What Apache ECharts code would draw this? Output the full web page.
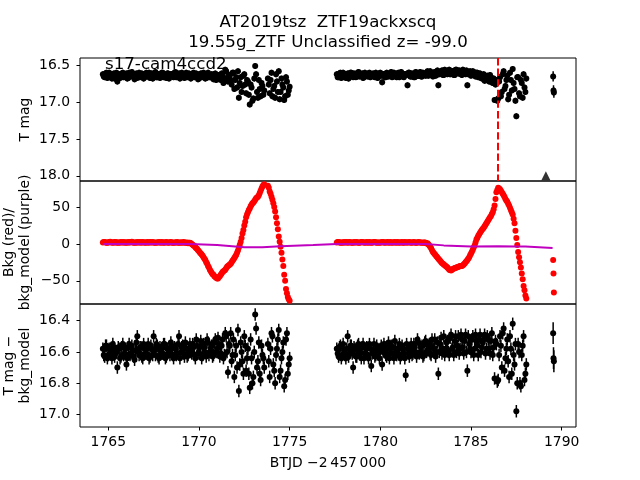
<!DOCTYPE html>
<html>
<head>
<meta charset="utf-8">
<script src="https://cdn.jsdelivr.net/npm/echarts@6.0.0/dist/echarts.min.js"></script>
<style>
html,body{margin:0;padding:0;background:#fff}
#chart{width:640px;height:480px}
</style>
</head>
<body>
<div id="chart"></div>
<script>
// TESS sector 17 cadence, both orbits
const btjd = [
	1764.7,1764.8,1764.9,1765.0,1765.1,1765.2,1765.3,1765.4,1765.5,1765.6,
	1765.7,1765.8,1765.9,1766.0,1766.1,1766.2,1766.3,1766.4,1766.5,1766.6,
	1766.7,1766.8,1766.9,1767.0,1767.1,1767.2,1767.3,1767.4,1767.5,1767.6,
	1767.7,1767.8,1767.9,1768.0,1768.1,1768.2,1768.3,1768.4,1768.5,1768.6,
	1768.7,1768.8,1768.9,1769.0,1769.1,1769.2,1769.3,1769.4,1769.5,1769.6,
	1769.7,1769.8,1769.9,1770.0,1770.1,1770.2,1770.3,1770.4,1770.5,1770.6,
	1770.7,1770.8,1770.9,1771.0,1771.1,1771.2,1771.3,1771.4,1771.5,1771.6,
	1771.7,1771.8,1771.9,1772.0,1772.1,1772.2,1772.3,1772.4,1772.5,1772.6,
	1772.7,1772.8,1772.9,1773.0,1773.1,1773.2,1773.3,1773.4,1773.5,1773.6,
	1773.8,1773.9,1774.0,1774.1,1774.2,1774.3,1774.4,1774.5,1774.6,1774.7,
	1774.8,1774.9,1775.0,
	1777.6,1777.7,1777.8,1777.9,1778.0,1778.1,1778.2,1778.3,1778.4,1778.5,
	1778.6,1778.7,1778.8,1778.9,1779.0,1779.1,1779.2,1779.3,1779.4,1779.5,
	1779.6,1779.7,1779.8,1779.9,1780.0,1780.1,1780.2,1780.3,1780.4,1780.5,
	1780.6,1780.7,1780.8,1780.9,1781.0,1781.1,1781.2,1781.3,1781.4,1781.5,
	1781.6,1781.7,1781.8,1781.9,1782.0,1782.1,1782.2,1782.3,1782.4,1782.5,
	1782.6,1782.7,1782.8,1782.9,1783.0,1783.1,1783.2,1783.3,1783.4,1783.5,
	1783.6,1783.7,1783.8,1783.9,1784.0,1784.1,1784.2,1784.3,1784.4,1784.5,
	1784.6,1784.7,1784.8,1784.9,1785.0,1785.1,1785.2,1785.3,1785.4,1785.5,
	1785.6,1785.7,1785.8,1785.9,1786.0,1786.1,1786.2,1786.3,1786.4,1786.5,
	1786.6,1786.7,1786.8,1786.9,1787.0,1787.1,1787.2,1787.3,1787.4,1787.5,
	1787.6,1787.7,1787.8,1787.9,1788.0
]
const tmag = [
	16.62,16.66,16.60,16.65,16.63,16.68,16.61,16.64,16.72,16.62,
	16.66,16.60,16.64,16.61,16.67,16.63,16.59,16.65,16.62,16.67,
	16.60,16.64,16.62,16.66,16.60,16.63,16.67,16.61,16.64,16.59,
	16.66,16.62,16.65,16.60,16.63,16.67,16.61,16.64,16.62,16.66,
	16.59,16.64,16.61,16.65,16.62,16.67,16.60,16.64,16.62,16.66,
	16.60,16.65,16.62,16.68,16.61,16.65,16.63,16.67,16.60,16.66,
	16.62,16.69,16.61,16.66,16.63,16.70,16.62,16.67,16.58,16.72,
	16.64,16.76,16.60,16.70,16.80,16.94,16.66,16.78,16.62,16.88,
	16.72,17.03,16.80,16.95,16.51,16.86,16.70,16.92,16.78,16.84,
	16.68,16.88,16.60,16.82,16.94,16.72,16.58,16.86,16.76,16.97,
	16.66,16.90,16.79,
	16.62,16.66,16.60,16.65,16.62,16.67,16.61,16.64,16.60,16.66,
	16.62,16.65,16.59,16.64,16.61,16.66,16.62,16.65,16.60,16.64,
	16.61,16.66,16.62,16.65,16.60,16.73,16.62,16.66,16.61,16.64,
	16.59,16.65,16.62,16.66,16.60,16.64,16.61,16.66,16.62,16.77,
	16.60,16.65,16.62,16.66,16.60,16.64,16.59,16.65,16.61,16.64,
	16.58,16.63,16.60,16.65,16.59,16.63,16.77,16.60,16.57,16.63,
	16.59,16.62,16.56,16.61,16.58,16.63,16.56,16.61,16.58,16.63,
	16.57,16.62,16.77,16.59,16.64,16.58,16.63,16.60,16.66,16.61,
	16.68,16.62,16.70,16.64,16.72,16.66,16.74,16.97,16.70,16.95,
	16.66,16.86,16.58,16.78,16.64,16.90,16.70,16.55,16.82,17.19,
	16.66,16.92,16.74,16.62,16.86
]
const bkg = [
	2,2.5,1.5,2,3,2,1.5,2.5,2,1.5,
	2.5,2,1.5,2,2.5,2,3,1.5,2,2.5,
	2,1.5,2.5,2,2,1.5,2.5,2,2,1.5,
	2,2.5,1.5,2,2,2.5,1.5,2,2,1.5,
	2,2.5,1.5,2,1.5,2,1.5,1,1.5,0,
	-2,-4.5,-7,-10,-13,-16,-20,-25,-30,-35,
	-39,-42,-45,-47,-45,-42,-38,-36,-33,-30,
	-28,-25,-21,-17,-12,-5,3,14,25,36,
	43,48,53,56,60,63,66,72,78,81,
	79,71,64,55,44,28,10,-4,-21,-42,
	-61,-72,-77,
	2,2.5,1.5,2,2.5,2,1.5,2.5,2,1.5,
	2,2.5,1.5,2,2.5,2,1.5,2,2.5,1.5,
	2,2.5,1.5,2,2,2.5,1.5,2,2.5,2,
	1.5,2,2.5,2,1.5,2,2.5,1.5,2,2,
	2.5,1.5,2,2,1.5,2.5,2,1.5,2,1.5,
	1,-2,-6,-11,-14,-17,-20,-23,-26,-28,
	-30,-32,-35,-36,-34,-33,-32,-31,-30,-30,
	-28,-25,-22,-18,-13,-8,-2,6,11,15,
	19,22,26,30,34,38,43,52,70,76,
	74,70,66,61,57,52,46,40,28,8,
	-11,-25,-40,-57,-70
]
const tmagSub = [
	16.58,16.63,16.56,16.62,16.59,16.64,16.57,16.61,16.70,16.58,
	16.63,16.55,16.61,16.68,16.57,16.62,16.56,16.63,16.59,16.50,
	16.62,16.57,16.64,16.58,16.61,16.55,16.63,16.58,16.50,16.62,
	16.56,16.64,16.59,16.61,16.55,16.63,16.58,16.62,16.56,16.64,
	16.58,16.61,16.50,16.60,16.56,16.63,16.58,16.62,16.55,16.61,
	16.57,16.64,16.56,16.60,16.53,16.62,16.57,16.63,16.54,16.60,
	16.56,16.62,16.52,16.58,16.55,16.61,16.52,16.62,16.50,16.73,
	16.56,16.66,16.52,16.62,16.70,16.85,16.54,16.66,16.50,16.72,
	16.58,16.83,16.64,16.76,16.36,16.70,16.54,16.78,16.62,16.70,
	16.55,16.76,16.48,16.68,16.80,16.58,16.46,16.72,16.60,16.82,
	16.52,16.74,16.64,
	16.58,16.63,16.56,16.62,16.59,16.64,16.50,16.61,16.56,16.70,
	16.58,16.63,16.55,16.61,16.57,16.64,16.58,16.62,16.55,16.69,
	16.59,16.63,16.56,16.61,16.58,16.68,16.55,16.62,16.58,16.64,
	16.56,16.61,16.53,16.62,16.58,16.64,16.56,16.61,16.75,16.58,
	16.63,16.55,16.61,16.57,16.63,16.54,16.60,16.56,16.62,16.53,
	16.59,16.55,16.62,16.57,16.52,16.60,16.74,16.55,16.61,16.50,
	16.58,16.53,16.62,16.49,16.57,16.53,16.60,16.50,16.58,16.52,
	16.61,16.49,16.72,16.55,16.60,16.50,16.58,16.53,16.62,16.49,
	16.57,16.52,16.61,16.50,16.58,16.53,16.62,16.77,16.55,16.78,
	16.50,16.70,16.45,16.64,16.52,16.76,16.58,16.42,16.68,16.98,
	16.55,16.80,16.62,16.50,16.74
]

// second pass of exposures, in between the ones above
const btjd2 = [
	1764.75,1764.85,1764.95,1765.05,1765.15,1765.25,1765.35,1765.45,1765.55,1765.65,
	1765.75,1765.85,1765.95,1766.05,1766.15,1766.25,1766.35,1766.45,1766.55,1766.65,
	1766.75,1766.85,1766.95,1767.05,1767.15,1767.25,1767.35,1767.45,1767.55,1767.65,
	1767.75,1767.85,1767.95,1768.05,1768.15,1768.25,1768.35,1768.45,1768.55,1768.65,
	1768.75,1768.85,1768.95,1769.05,1769.15,1769.25,1769.35,1769.45,1769.55,1769.65,
	1769.75,1769.85,1769.95,1770.05,1770.15,1770.25,1770.35,1770.45,1770.55,1770.65,
	1770.75,1770.85,1770.95,1771.05,1771.15,1771.25,1771.35,1771.45,1771.55,1771.65,
	1771.75,1771.85,1771.95,1772.05,1772.15,1772.25,1772.35,1772.45,1772.55,1772.65,
	1772.75,1772.85,1772.95,1773.05,1773.15,1773.25,1773.35,1773.45,1773.55,1773.85,
	1773.95,1774.05,1774.15,1774.25,1774.35,1774.45,1774.55,1774.65,1774.75,1774.85,
	1774.95,
	1777.65,1777.75,1777.85,1777.95,1778.05,1778.15,1778.25,1778.35,1778.45,1778.55,
	1778.65,1778.75,1778.85,1778.95,1779.05,1779.15,1779.25,1779.35,1779.45,1779.55,
	1779.65,1779.75,1779.85,1779.95,1780.05,1780.15,1780.25,1780.35,1780.45,1780.55,
	1780.65,1780.75,1780.85,1780.95,1781.05,1781.15,1781.25,1781.35,1781.45,1781.55,
	1781.65,1781.75,1781.85,1781.95,1782.05,1782.15,1782.25,1782.35,1782.45,1782.55,
	1782.65,1782.75,1782.85,1782.95,1783.05,1783.15,1783.25,1783.35,1783.45,1783.55,
	1783.65,1783.75,1783.85,1783.95,1784.05,1784.15,1784.25,1784.35,1784.45,1784.55,
	1784.65,1784.75,1784.85,1784.95,1785.05,1785.15,1785.25,1785.35,1785.45,1785.55,
	1785.65,1785.75,1785.85,1785.95,1786.05,1786.15,1786.25,1786.35,1786.45,1786.55,
	1786.65,1786.75,1786.85,1786.95,1787.05,1787.15,1787.25,1787.35,1787.45,1787.55,
	1787.65,1787.75,1787.85,1787.95,1788.05
]
const tmag2 = [
	16.65,16.61,16.67,16.60,16.66,16.62,16.68,16.60,16.64,16.67,
	16.61,16.66,16.63,16.68,16.60,16.65,16.62,16.69,16.61,16.64,
	16.66,16.61,16.68,16.62,16.65,16.60,16.64,16.68,16.61,16.66,
	16.62,16.67,16.60,16.66,16.63,16.61,16.68,16.62,16.65,16.60,
	16.66,16.62,16.68,16.60,16.65,16.62,16.66,16.61,16.68,16.62,
	16.66,16.61,16.69,16.63,16.66,16.60,16.68,16.62,16.66,16.63,
	16.67,16.62,16.70,16.64,16.68,16.61,16.74,16.56,16.68,16.63,
	16.70,16.60,16.82,16.66,16.58,16.74,16.86,16.64,16.76,16.70,
	16.90,16.76,16.98,16.68,16.62,16.94,16.82,16.74,16.90,16.76,
	16.70,16.92,16.78,16.62,16.86,16.96,16.68,16.80,16.92,16.72,
	16.84,
	16.66,16.61,16.67,16.60,16.65,16.62,16.68,16.60,16.64,16.61,
	16.66,16.60,16.65,16.62,16.67,16.60,16.64,16.61,16.66,16.62,
	16.65,16.60,16.67,16.61,16.64,16.62,16.66,16.60,16.65,16.62,
	16.66,16.60,16.64,16.61,16.66,16.59,16.65,16.62,16.63,16.60,
	16.65,16.61,16.66,16.59,16.64,16.61,16.65,16.60,16.63,16.61,
	16.64,16.58,16.62,16.60,16.64,16.57,16.62,16.59,16.63,16.56,
	16.61,16.57,16.62,16.58,16.63,16.56,16.60,16.57,16.62,16.56,
	16.61,16.57,16.62,16.58,16.61,16.59,16.65,16.60,16.63,16.67,
	16.64,16.71,16.66,16.69,16.63,16.73,16.68,16.76,16.98,16.72,
	16.92,16.62,16.82,16.70,16.96,16.60,16.84,16.74,16.98,16.66,
	16.88,16.70,16.94,16.80,16.68
]
const bkg2 = [
	2.5,2,1.5,2.5,2,2,2.5,1.5,2,2,
	2,2.5,2,1.5,2,2.5,2,2,1.5,2,
	2.5,2,2,1.5,2.5,2,2,2.5,1.5,2,
	2,2,2.5,1.5,2,2,2,2.5,1.5,2,
	2,1.5,2,2,2.5,1.5,2,1.5,1,-1,
	-3,-6,-8.5,-11.5,-14.5,-18,-22,-27,-32,-37,
	-41,-44,-46,-47,-44,-40,-37,-35,-31,-29,
	-27,-23,-19,-15,-9,-1,8,19,30,40,
	46,51,55,58,62,64,69,75,80,76,
	68,60,50,36,20,3,-12,-30,-50,-67,
	-75,
	2.5,2,2,1.5,2,2.5,2,2,1.5,2.5,
	2,2,1.5,2.5,2,2,2.5,1.5,2,2,
	2.5,2,2,1.5,2,2.5,2,2,1.5,2.5,
	2,2,1.5,2.5,2,2,1.5,2.5,2,2,
	2,2,2.5,1.5,2,2,2,1.5,2,0.5,
	-0.5,-4,-8.5,-12.5,-15.5,-18.5,-21.5,-24.5,-27,-29,
	-31,-33.5,-35.5,-35,-33.5,-32.5,-31.5,-30.5,-30,-29,
	-26.5,-23.5,-20,-15.5,-10.5,-5,2,8.5,13,17,
	20.5,24,28,32,36,40.5,47,61,73,75,
	72,68,63.5,59,54.5,49,43,34,18,-1.5,
	-18,-32,-48,-63,-74
]
const tmagSub2 = [
	16.62,16.56,16.64,16.58,16.61,16.55,16.63,16.60,16.57,16.64,
	16.57,16.62,16.58,16.64,16.55,16.61,16.59,16.65,16.54,16.60,
	16.57,16.63,16.55,16.61,16.58,16.64,16.56,16.62,16.59,16.55,
	16.63,16.57,16.61,16.55,16.64,16.58,16.60,16.54,16.62,16.57,
	16.62,16.55,16.64,16.57,16.61,16.54,16.63,16.58,16.60,16.55,
	16.62,16.52,16.61,16.57,16.64,16.55,16.60,16.52,16.62,16.58,
	16.63,16.54,16.60,16.51,16.63,16.56,16.64,16.48,16.60,16.55,
	16.48,16.62,16.76,16.56,16.46,16.68,16.60,16.74,16.56,16.64,
	16.74,16.52,16.80,16.60,16.45,16.66,16.74,16.56,16.64,16.66,
	16.58,16.50,16.72,16.62,16.52,16.76,16.64,16.54,16.78,16.48,
	16.68,
	16.61,16.57,16.64,16.55,16.62,16.58,16.63,16.56,16.61,16.57,
	16.63,16.56,16.60,16.64,16.55,16.61,16.57,16.64,16.58,16.61,
	16.55,16.62,16.58,16.64,16.56,16.60,16.57,16.63,16.54,16.61,
	16.57,16.64,16.58,16.60,16.55,16.62,16.58,16.64,16.55,16.61,
	16.58,16.62,16.55,16.60,16.52,16.61,16.57,16.63,16.54,16.60,
	16.56,16.61,16.52,16.58,16.63,16.54,16.60,16.51,16.58,16.62,
	16.54,16.60,16.51,16.58,16.62,16.50,16.56,16.61,16.49,16.57,
	16.53,16.60,16.50,16.58,16.52,16.62,16.49,16.56,16.52,16.60,
	16.54,16.49,16.58,16.52,16.61,16.48,16.57,16.53,16.79,16.62,
	16.56,16.48,16.72,16.58,16.66,16.50,16.74,16.62,16.55,16.80,
	16.60,16.82,16.56,16.78,16.68
]
const tessErr = 0.04

// the few late points after the sector
const lateTime = [1789.53, 1789.55, 1789.57]
const lateTmag = [16.65, 16.84, 16.87]
const lateBkg = [-22, -40, -66]
const lateSub = [16.48, 16.64, 16.66]
const lateErr = [0.07, 0.07, 0.07]

// upper limit marker + discovery line
const limitTime = [1789.13]
const limitMag = [18.0]
const discoveryTime = 1786.5

// smooth background model (purple)
const modelTime = [1764.7,1769.5,1771.0,1772.5,1773.5,1774.5,1776.3,1777.6,1782.5,1783.5,1785.0,1786.5,1787.5,1788.0,1789.5]
const modelBkg = [0,0,-1.5,-4.5,-4.6,-3.3,-1.5,0,0,-2,-3.5,-3.2,-3.5,-3.6,-5.5]

const xTicks = [1765, 1770, 1775, 1780, 1785, 1790]
const magTicks = [16.5, 17.0, 17.5, 18.0]
const bkgTicks = [-50, 0, 50]
const subTicks = [16.4, 16.6, 16.8, 17.0]

const font = 'DejaVu Sans'
const chart = echarts.init(document.getElementById('chart'))

const withErr = (valsA, valsB, lateVals) => btjd.map((t, i) => [t, valsA[i], tessErr])
	.concat(btjd2.map((t, i) => [t, valsB[i], tessErr]))
	.concat(lateTime.map((t, i) => [t, lateVals[i], lateErr[i]]))

const topRows = withErr(tmag, tmag2, lateTmag)
const subRows = withErr(tmagSub, tmagSub2, lateSub)
const bkgRows = btjd.map((t, i) => [t, bkg[i]])
	.concat(btjd2.map((t, i) => [t, bkg2[i]]))
	.concat(lateTime.map((t, i) => [t, lateBkg[i]]))

const errorBars = (idx, rows) => ({
	type: 'custom',
	xAxisIndex: idx,
	yAxisIndex: idx,
	data: rows,
	silent: true,
	z: 2,
	encode: {x: 0, y: 1},
	renderItem: (params, api) => {
		const t = api.value(0), m = api.value(1), e = api.value(2)
		const a = api.coord([t, m - e]), b = api.coord([t, m + e])
		return {
			type: 'line',
			shape: {x1: a[0], y1: a[1], x2: b[0], y2: b[1]},
			style: {stroke: '#000', lineWidth: 1.5}
		}
	}
})

const xAxisFor = (idx, bottom) => ({
	type: 'value',
	gridIndex: idx,
	min: 1763.44,
	max: 1790.79,
	splitLine: {show: false},
	axisLine: {show: false},
	axisTick: {show: bottom, customValues: xTicks, length: 3.5, lineStyle: {color: '#000', width: 1}},
	axisLabel: {show: bottom, customValues: xTicks, margin: 8, color: '#000', fontSize: 13.9, fontFamily: font, formatter: v => String(v)},
	name: bottom ? 'BTJD \u22122\u2009457\u2009000' : '',
	nameLocation: 'middle',
	nameGap: 29,
	nameMoveOverlap: false,
	nameTextStyle: {color: '#000', fontSize: 13.9, fontFamily: font}
})

const yAxisFor = (idx, min, max, ticks, inverse, name, fmt) => ({
	type: 'value',
	gridIndex: idx,
	min: min,
	max: max,
	inverse: inverse,
	splitLine: {show: false},
	axisLine: {show: false},
	axisTick: {customValues: ticks, length: 3.5, lineStyle: {color: '#000', width: 1}},
	axisLabel: {customValues: ticks, margin: 10, color: '#000', fontSize: 13.9, fontFamily: font, formatter: fmt},
	name: name,
	nameLocation: 'middle',
	nameRotate: 90,
	nameGap: 46,
	nameMoveOverlap: false,
	nameTextStyle: {color: '#000', fontSize: 13.9, fontFamily: font, lineHeight: 16.5}
})

const oneDecimal = v => v.toFixed(1)
const signed = v => v < 0 ? '\u2212' + (-v) : String(v)

const gridBox = top => ({
	left: 80, width: 496, top: top, height: 123,
	show: true, borderColor: '#000', borderWidth: 1,
	containLabel: false, outerBoundsMode: 'none'
})

chart.setOption({
	animation: false,
	backgroundColor: '#fff',
	textStyle: {fontFamily: font},
	title: {
		text: 'AT2019tsz  ZTF19ackxscq\n19.55g_ZTF Unclassified z= -99.0',
		left: 328,
		top: 12,
		padding: 0,
		textAlign: 'center',
		textStyle: {fontSize: 16.67, fontWeight: 'normal', color: '#000', fontFamily: font, lineHeight: 20.7}
	},
	graphic: [{
		type: 'text',
		left: 105,
		top: 56,
		z: 10,
		style: {text: 's17-cam4ccd2', fontSize: 16.67, fontFamily: font, fill: '#000'}
	}],
	grid: [gridBox(58), gridBox(181), gridBox(304)],
	xAxis: [xAxisFor(0, false), xAxisFor(1, false), xAxisFor(2, true)],
	yAxis: [
		yAxisFor(0, 16.40, 18.07, magTicks, true, 'T mag', oneDecimal),
		yAxisFor(1, -81.5, 85.3, bkgTicks, false, 'Bkg (red)/\nbkg_model (purple)', signed),
		yAxisFor(2, 16.293, 17.081, subTicks, true, 'T mag \u2212\nbkg_model', oneDecimal)
	],
	series: [
		errorBars(0, topRows),
		{
			type: 'scatter', xAxisIndex: 0, yAxisIndex: 0, z: 3,
			data: topRows.map(r => [r[0], r[1]]),
			symbolSize: 6, itemStyle: {color: '#000', opacity: 1}
		},
		{
			type: 'scatter', xAxisIndex: 0, yAxisIndex: 0, z: 3,
			data: limitTime.map((t, i) => [t, limitMag[i]]),
			symbol: 'triangle', symbolSize: 9, itemStyle: {color: '#000'},
			markLine: {
				silent: true,
				symbol: ['none', 'none'],
				label: {show: false},
				lineStyle: {color: '#ff0000', width: 2, type: [7.4, 3.2]},
				data: [{xAxis: discoveryTime}]
			}
		},
		{
			type: 'scatter', xAxisIndex: 1, yAxisIndex: 1, z: 3,
			data: bkgRows,
			symbolSize: 6, itemStyle: {color: '#ff0000', opacity: 1}
		},
		{
			type: 'line', xAxisIndex: 1, yAxisIndex: 1, z: 4,
			data: modelTime.map((t, i) => [t, modelBkg[i]]),
			showSymbol: false, symbol: 'none',
			lineStyle: {color: '#bf00bf', width: 2}
		},
		errorBars(2, subRows),
		{
			type: 'scatter', xAxisIndex: 2, yAxisIndex: 2, z: 3,
			data: subRows.map(r => [r[0], r[1]]),
			symbolSize: 6, itemStyle: {color: '#000', opacity: 1}
		}
	]
})
</script>
</body>
</html>
